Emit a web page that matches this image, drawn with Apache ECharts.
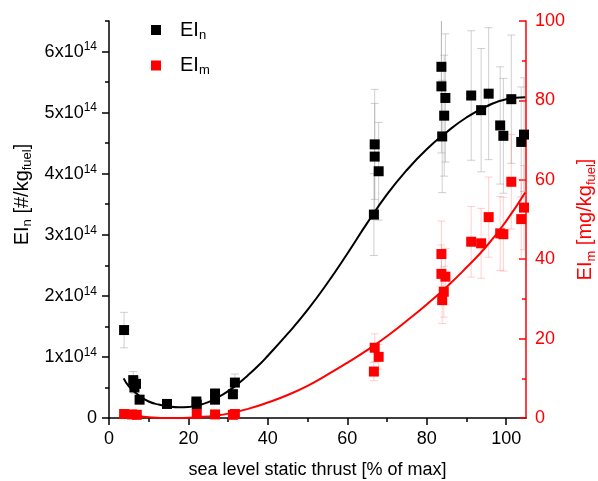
<!DOCTYPE html>
<html>
<head>
<meta charset="utf-8">
<script src="https://cdn.jsdelivr.net/npm/echarts@6/dist/echarts.min.js"></script>
<style>
  html, body { margin: 0; padding: 0; background: #fff; }
  #chart { width: 598px; height: 481px; }
</style>
</head>
<body>
<div id="chart"></div>
<script>
const E14 = 1e14

// EI_n measurements (x: % of max thrust, y: units of 1e14 #/kg_fuel)
const nX = [3.8, 6.1, 6.4, 6.8, 7.7, 14.6, 22.0, 22.1, 26.7, 26.7, 31.2, 31.7,
  66.7, 66.9, 66.9, 67.9, 83.7, 83.7, 84.7, 84.4, 83.9, 91.2, 93.7, 95.6, 98.5, 99.3, 101.3, 103.8, 104.5]
const nY = [1.44, 0.62, 0.50, 0.56, 0.30, 0.23, 0.27, 0.22, 0.40, 0.30, 0.39, 0.58,
  3.33, 4.48, 4.28, 4.04, 5.75, 5.43, 5.24, 4.95, 4.61, 5.28, 5.04, 5.31, 4.79, 4.62, 5.22, 4.52, 4.64]
const nErr = [0.29, 0.14, 0.10, 0.11, 0.06, 0.05, 0.05, 0.04, 0.08, 0.06, 0.08, 0.14,
  0.67, 0.90, 0.87, 0.80, 1.15, 1.09, 1.05, 0.99, 0.92, 1.06, 1.01, 1.08, 0.96, 0.94, 1.05, 0.90, 0.93]

// EI_m measurements (y: mg/kg_fuel)
const mX = [3.8, 5.8, 7.0, 22.1, 26.7, 31.2, 31.7, 66.9, 67.9, 66.7,
  83.7, 83.7, 84.7, 84.3, 83.9, 91.2, 93.7, 95.6, 98.5, 99.3, 101.3, 103.8, 104.5]
const mY = [1.0, 0.9, 0.8, 1.0, 0.9, 0.8, 1.0, 17.7, 15.4, 11.7,
  41.3, 36.3, 35.6, 31.8, 29.7, 44.4, 44.0, 50.6, 46.5, 46.3, 59.5, 50.1, 53.0]
const mErr = [0.2, 0.2, 0.2, 0.2, 0.2, 0.2, 0.2, 3.5, 3.1, 2.3,
  8.3, 7.3, 7.1, 6.4, 5.9, 8.9, 8.8, 10.1, 9.3, 9.3, 11.9, 10.0, 10.6]

// fitted curves
const fitNX = [3.7, 5, 7.5, 10, 12.5, 15, 17.5, 20, 22.5, 25, 27.5, 30, 32.5, 35, 37.5, 40, 45, 50, 55,
  60, 65, 70, 75, 80, 85, 90, 95, 100, 104.8]
const fitNY = [0.65, 0.52, 0.37, 0.27, 0.22, 0.19, 0.175, 0.18, 0.21, 0.26, 0.34, 0.44, 0.56, 0.70, 0.85, 1.02, 1.38, 1.77, 2.21,
  2.69, 3.19, 3.66, 4.06, 4.40, 4.68, 4.92, 5.10, 5.22, 5.25]
const fitMX = [3.7, 7.5, 10, 15, 18.7, 23, 26.7, 30, 35, 40, 45, 50, 55, 60, 65, 70, 75, 80, 85, 90, 95, 100, 104.8]
const fitMY = [1.3, 0.5, 0.2, 0.0, 0.0, 0.25, 0.6, 1.1, 2.3, 3.9, 5.8, 8.1, 10.9, 13.9, 17.1, 20.6, 24.5, 28.6, 33.0, 37.9, 43.2, 49.6, 56.8]

const xMajor = [0, 20, 40, 60, 80, 100]
const xMinor = [10, 30, 50, 70, 90]
const yMajor = [0, 1, 2, 3, 4, 5, 6]
const yMinor = [0.5, 1.5, 2.5, 3.5, 4.5, 5.5, 6.5]

const FONT = "Liberation Sans, Arial, sans-serif"
const RED = "#ff0000"

const chart = echarts.init(document.getElementById("chart"))

function errorBars(color) {
  return function (params, api) {
    const x = api.value(0)
    const top = api.coord([x, api.value(2)])
    const bot = api.coord([x, api.value(1)])
    const w = 4
    const style = { stroke: color, lineWidth: 1 }
    return {
      type: "group",
      children: [
        { type: "line", shape: { x1: top[0], y1: top[1], x2: bot[0], y2: bot[1] }, style },
        { type: "line", shape: { x1: top[0] - w, y1: top[1], x2: top[0] + w, y2: top[1] }, style },
        { type: "line", shape: { x1: bot[0] - w, y1: bot[1], x2: bot[0] + w, y2: bot[1] }, style }
      ]
    }
  }
}

const nPoints = nX.map((x, i) => [x, nY[i] * E14])
const nBars = nX.map((x, i) => [x, (nY[i] - nErr[i]) * E14, (nY[i] + nErr[i]) * E14])
const mPoints = mX.map((x, i) => [x, mY[i]])
const mBars = mX.map((x, i) => [x, mY[i] - mErr[i], mY[i] + mErr[i]])

const labelRich = {
  a: { fontSize: 18, fontFamily: FONT, color: "#000" },
  s: { fontSize: 12, fontFamily: FONT, color: "#000", padding: [0, 0, 9, 0] }
}

function plotBox() {
  return { left: 109, right: 72, top: 21, bottom: 63, outerBoundsMode: "none" }
}

chart.setOption({
  animation: false,
  // second grid with the same box only carries the minor ticks
  grid: [plotBox(), plotBox()],
  legend: {
    orient: "vertical",
    left: 151,
    top: 20,
    padding: 0,
    itemWidth: 10,
    itemHeight: 10,
    itemGap: 14,
    data: [{ name: "EI_n", icon: "rect" }, { name: "EI_m", icon: "rect" }],
    formatter: (name) => "{a|EI}{s|" + name.split("_")[1] + "}",
    textStyle: {
      padding: [0, 0, 0, 14],
      rich: {
        a: { fontSize: 20, fontFamily: FONT, color: "#000" },
        s: { fontSize: 13, fontFamily: FONT, color: "#000", padding: [10, 0, 0, 0] }
      }
    }
  },
  xAxis: [
    {
      type: "value",
      gridIndex: 0,
      min: 0,
      max: 105,
      interval: 20,
      name: "sea level static thrust [% of max]",
      nameLocation: "middle",
      nameGap: 43,
      nameTextStyle: { fontSize: 18, fontFamily: FONT, color: "#000" },
      axisLine: { lineStyle: { color: "#000", width: 1.5 } },
      axisTick: { customValues: xMajor, length: 7, lineStyle: { color: "#000", width: 1.5 } },
      axisLabel: { customValues: xMajor, fontSize: 18, fontFamily: FONT, color: "#000", margin: 12 },
      splitLine: { show: false }
    },
    {
      type: "value",
      gridIndex: 1,
      position: "bottom",
      min: 0,
      max: 105,
      axisLine: { show: false },
      axisTick: { customValues: xMinor, length: 4, lineStyle: { color: "#000", width: 1.5 } },
      axisLabel: { show: false },
      splitLine: { show: false }
    }
  ],
  yAxis: [
    {
      type: "value",
      gridIndex: 0,
      position: "left",
      min: 0,
      max: 6.5 * E14,
      interval: E14,
      name: "{a|EI}{s|n}{a| [#/kg}{s|fuel}{a|]}",
      nameLocation: "middle",
      nameGap: 70,
      nameTextStyle: {
        padding: [0, 0, 0, 50],
        rich: {
          a: { fontSize: 20, fontFamily: FONT, color: "#000" },
          s: { fontSize: 13, fontFamily: FONT, color: "#000", padding: [10, 0, 0, 0] }
        }
      },
      axisLine: { show: true, lineStyle: { color: "#000", width: 1.5 } },
      axisTick: { customValues: yMajor.map((v) => v * E14), length: 7, lineStyle: { color: "#000", width: 1.5 } },
      axisLabel: {
        customValues: yMajor.map((v) => v * E14),
        margin: 12,
        formatter: (v) => (v === 0 ? "{a|0}" : "{a|" + Math.round(v / E14) + "x10}{s|14}"),
        rich: labelRich
      },
      splitLine: { show: false }
    },
    {
      type: "value",
      gridIndex: 0,
      position: "right",
      min: 0,
      max: 100,
      interval: 20,
      name: "{a|EI}{s|m}{a| [mg/kg}{s|fuel}{a|]}",
      nameLocation: "middle",
      nameRotate: 90,
      nameGap: 44,
      nameTextStyle: {
        rich: {
          a: { fontSize: 20, fontFamily: FONT, color: RED },
          s: { fontSize: 13, fontFamily: FONT, color: RED, padding: [10, 0, 0, 0] }
        }
      },
      axisLine: { show: true, lineStyle: { color: RED, width: 1.5 } },
      axisTick: { inside: true, length: 7, lineStyle: { color: RED, width: 1.5 } },
      minorTick: { show: true, splitNumber: 2, length: 4, lineStyle: { color: RED, width: 1.5 } },
      axisLabel: { fontSize: 18, fontFamily: FONT, color: RED, margin: 9 },
      splitLine: { show: false },
      minorSplitLine: { show: false }
    },
    {
      type: "value",
      gridIndex: 1,
      position: "left",
      min: 0,
      max: 6.5 * E14,
      axisLine: { show: false },
      axisTick: { customValues: yMinor.map((v) => v * E14), length: 4, lineStyle: { color: "#000", width: 1.5 } },
      axisLabel: { show: false },
      splitLine: { show: false }
    }
  ],
  series: [
    {
      type: "custom",
      name: "n-err",
      xAxisIndex: 0,
      yAxisIndex: 0,
      clip: true,
      renderItem: errorBars("rgba(150,150,150,0.45)"),
      data: nBars,
      z: 1
    },
    {
      type: "custom",
      name: "m-err",
      xAxisIndex: 0,
      yAxisIndex: 1,
      clip: true,
      renderItem: errorBars("rgba(255,120,120,0.35)"),
      data: mBars,
      z: 1
    },
    {
      type: "line",
      name: "fit-n",
      xAxisIndex: 0,
      yAxisIndex: 0,
      smooth: 0.5,
      showSymbol: false,
      lineStyle: { color: "#000", width: 2 },
      data: fitNX.map((x, i) => [x, fitNY[i] * E14]),
      z: 2
    },
    {
      type: "line",
      name: "fit-m",
      xAxisIndex: 0,
      yAxisIndex: 1,
      smooth: 0.5,
      showSymbol: false,
      lineStyle: { color: RED, width: 2 },
      data: fitMX.map((x, i) => [x, fitMY[i]]),
      z: 2
    },
    {
      type: "scatter",
      name: "EI_n",
      xAxisIndex: 0,
      yAxisIndex: 0,
      symbol: "rect",
      symbolSize: 10,
      itemStyle: { color: "#000", opacity: 1 },
      data: nPoints,
      z: 3
    },
    {
      type: "scatter",
      name: "EI_m",
      xAxisIndex: 0,
      yAxisIndex: 1,
      symbol: "rect",
      symbolSize: 10,
      itemStyle: { color: RED, opacity: 1 },
      data: mPoints,
      z: 3
    }
  ]
})
</script>
</body>
</html>
